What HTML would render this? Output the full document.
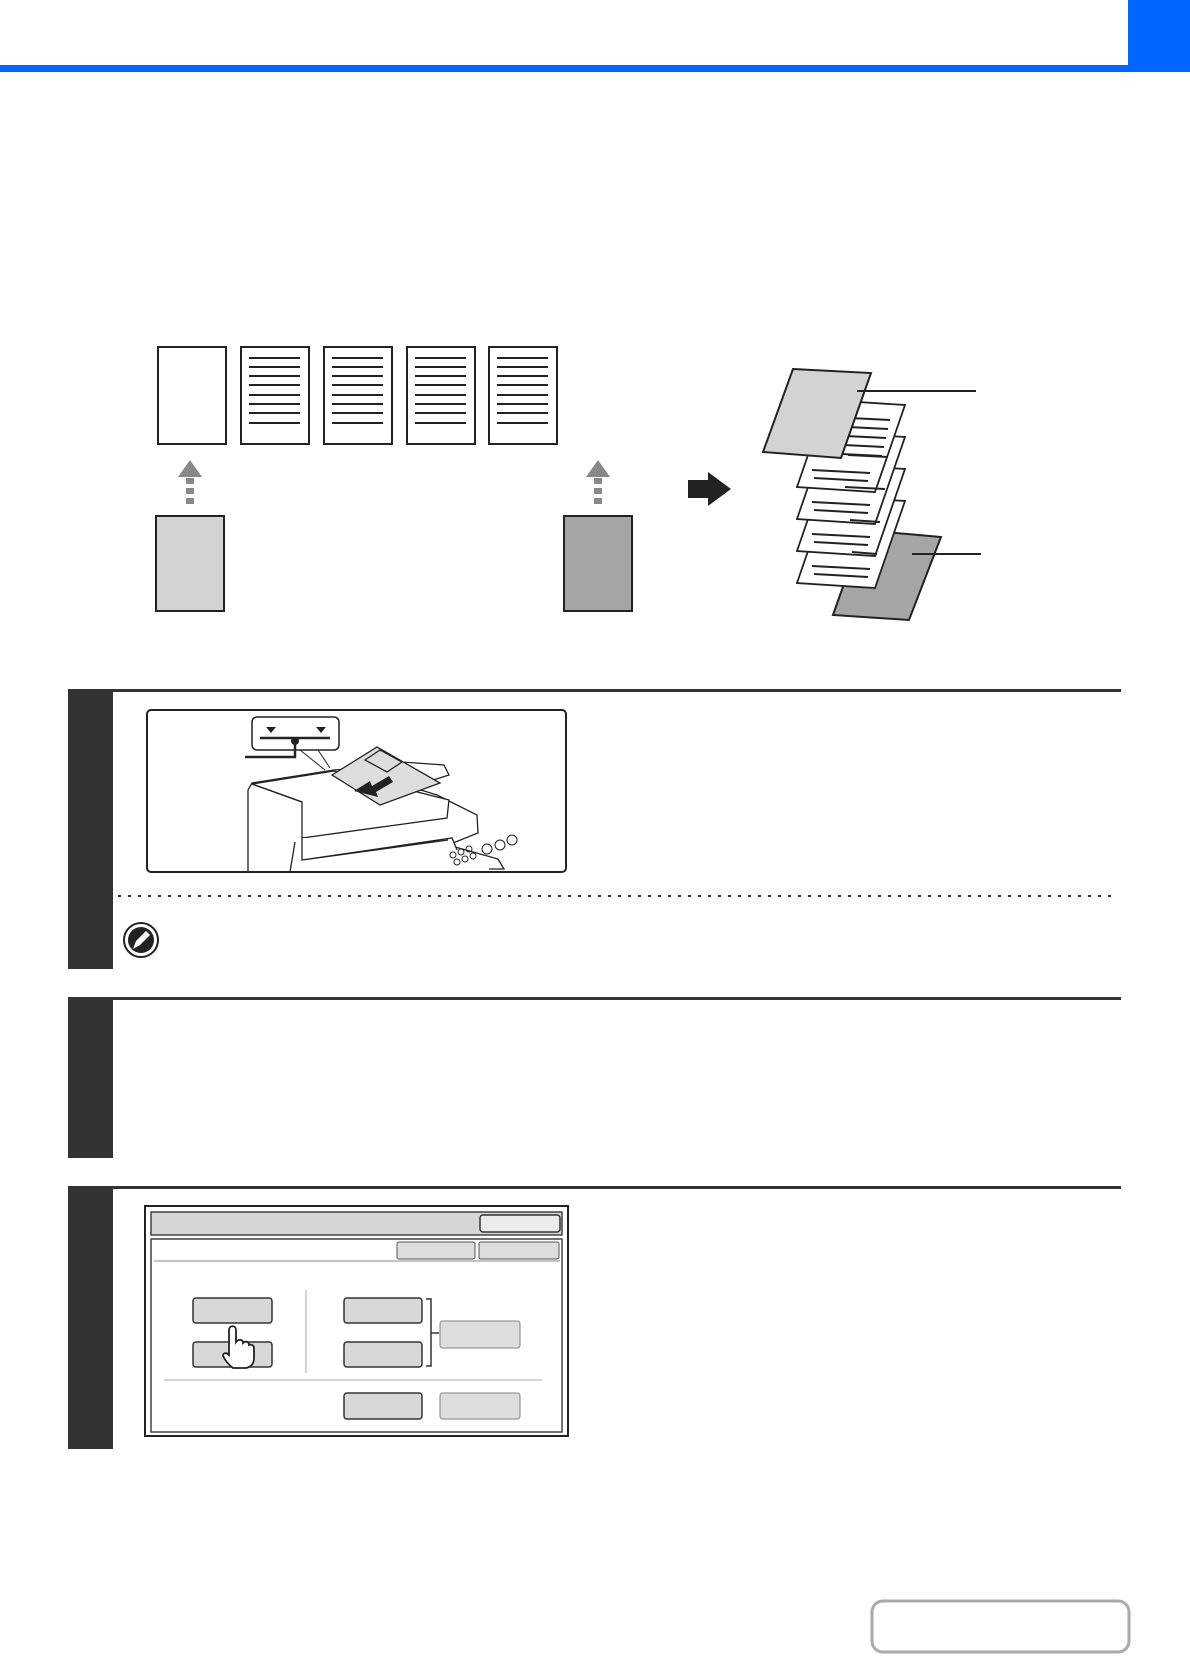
<!DOCTYPE html>
<html><head><meta charset="utf-8"><style>
html,body{margin:0;padding:0;background:#fff;}
svg{display:block;}
</style></head><body>
<svg width="1190" height="1656" viewBox="0 0 1190 1656" xmlns="http://www.w3.org/2000/svg" font-family="Liberation Sans, sans-serif">
<!-- header -->
<rect x="0" y="65" width="1128" height="7" fill="#0066ff"/>
<rect x="1128" y="0" width="62" height="72" fill="#0066ff"/>

<!-- top pages -->
<g stroke="#222" stroke-width="2" fill="#fff">
<rect x="158" y="347" width="68" height="97"/>
<rect x="241" y="347" width="68" height="97"/>
<rect x="324" y="347" width="68" height="97"/>
<rect x="407" y="347" width="68" height="97"/>
<rect x="489" y="347" width="68" height="97"/>
</g>
<g stroke="#222" stroke-width="2">
<path d="M249 358h51M249 367h51M249 376h51M249 385h51M249 395h51M249 404h51M249 413h51M249 423h51"/>
<path d="M332 358h51M332 367h51M332 376h51M332 385h51M332 395h51M332 404h51M332 413h51M332 423h51"/>
<path d="M415 358h51M415 367h51M415 376h51M415 385h51M415 395h51M415 404h51M415 413h51M415 423h51"/>
<path d="M497 358h51M497 367h51M497 376h51M497 385h51M497 395h51M497 404h51M497 413h51M497 423h51"/>
</g>
<!-- dashed up arrows -->
<g fill="#888">
<polygon points="190,460 178,477 202,477"/>
<rect x="186" y="478" width="8" height="6"/><rect x="186" y="488" width="8" height="6"/><rect x="186" y="498" width="8" height="6"/>
<polygon points="598,460 586,477 610,477"/>
<rect x="594" y="478" width="8" height="6"/><rect x="594" y="488" width="8" height="6"/><rect x="594" y="498" width="8" height="6"/>
</g>
<rect x="156" y="516" width="68" height="95" fill="#d3d3d3" stroke="#222" stroke-width="2"/>
<rect x="564" y="516" width="68" height="95" fill="#a5a5a5" stroke="#222" stroke-width="2"/>
<!-- black arrow -->
<polygon points="688,480 708,480 708,472 731,489 708,506 708,498 688,498" fill="#222"/>

<!-- stack -->
<polygon points="863,530 941,537 909,620 833,615" fill="#a5a5a5" stroke="#222" stroke-width="2"/>
<g stroke="#222" stroke-width="1.8" fill="#fff">
<polygon points="827,496 905,501 875,588 797,583"/>
<polygon points="827,464 905,469 875,556 797,551"/>
<polygon points="827,432 905,437 875,524 797,519"/>
<polygon points="827,400 905,405 875,492 797,487"/>
</g>
<g stroke="#222" stroke-width="2">
<path d="M812 566l58 3M814 574l54 3M812 534l58 3M814 542l54 3M812 502l58 3M814 510l54 3M812 470l58 3M814 478l54 3"/>
<path d="M850 418l40 2M848 427l40 2M846 436l40 2M844 445l40 2M842 454l40 2M845 487l40 2M848 455l40 2M850 520l30 2M852 552l25 2"/>
</g>
<polygon points="793,369 871,373 841,458 763,452" fill="#d3d3d3" stroke="#222" stroke-width="2"/>
<path d="M857 391H976M912 554H981" stroke="#222" stroke-width="2"/>

<!-- step sidebars and lines -->
<rect x="68" y="689" width="45" height="280" fill="#333"/>
<rect x="68" y="689" width="1053" height="3" fill="#333"/>
<rect x="68" y="997" width="45" height="161" fill="#333"/>
<rect x="68" y="997" width="1053" height="3" fill="#333"/>
<rect x="68" y="1186" width="45" height="263" fill="#333"/>
<rect x="68" y="1186" width="1053" height="3" fill="#333"/>

<!-- step1 illustration -->
<rect x="147" y="710" width="419" height="162" rx="4" fill="#fff" stroke="#222" stroke-width="2"/>
<g stroke="#222" stroke-width="1.3" fill="#fff">
<path d="M248 872V790l4-7 82-13 38-3 30-5 42 3 5 10-38 12 26 8 40 20 1 18-30 12 50 14 6 10-15 0" fill="none"/>
<polygon points="252,784 334,771 449,800 447,818 302,838 302,802"/>
<path d="M252 784l50 18M302 838V860l146-20M302 860l150-22 5 12M290 872l5-30"/>
<polygon points="332,775 377,747 440,783 380,805" fill="#ddd"/>
<path d="M365 760l15-10 22 12-15 10z" fill="#ddd"/>
</g>
<polygon points="354,791 370,781 372,786 389,776 393,782 376,792 378,797" fill="#222"/>
<g fill="none" stroke="#222" stroke-width="1">
<circle cx="453" cy="855" r="3"/><circle cx="461" cy="852" r="3"/><circle cx="469" cy="849" r="3"/><circle cx="457" cy="862" r="3"/><circle cx="465" cy="859" r="3"/><circle cx="473" cy="856" r="3"/><circle cx="487" cy="849" r="5"/><circle cx="500" cy="845" r="5"/><circle cx="512" cy="840" r="5"/>
</g>
<rect x="252" y="717" width="87" height="33" rx="5" fill="#fff" stroke="#222" stroke-width="1.5"/>
<path d="M260 738H330" stroke="#222" stroke-width="2.5"/>
<polygon points="266,727 276,727 271,733" fill="#222"/><polygon points="316,727 326,727 321,733" fill="#222"/>
<circle cx="295" cy="741" r="4" fill="#222"/>
<path d="M295 741V757H245" fill="none" stroke="#222" stroke-width="2.5"/>
<path d="M300 750l25 20M318 750l12 18" stroke="#222" stroke-width="1"/>

<!-- dotted line + note -->
<path d="M118 896H1116" stroke="#333" stroke-width="2" stroke-dasharray="3 7"/>
<circle cx="141" cy="940" r="17" fill="#fff" stroke="#222" stroke-width="2"/>
<circle cx="141" cy="940" r="13" fill="#222"/>
<path d="M133 949l3-8 10-10 4 4-10 10z" fill="#fff"/>

<!-- step3 screen -->
<rect x="145" y="1206" width="423" height="230" fill="#fff" stroke="#222" stroke-width="2"/>
<rect x="151" y="1212" width="411" height="23" fill="#d6d6d6" stroke="#444" stroke-width="1.5"/>
<rect x="480" y="1215" width="80" height="17" rx="3" fill="#ececec" stroke="#333" stroke-width="1.5"/>
<rect x="151" y="1239" width="411" height="193" fill="#fff" stroke="#444" stroke-width="1.5"/>
<rect x="397" y="1242" width="78" height="17" rx="2" fill="#ddd" stroke="#555"/>
<rect x="479" y="1242" width="80" height="17" rx="2" fill="#ddd" stroke="#555"/>
<path d="M154 1261H560" stroke="#888"/>
<g fill="#d8d8d8" stroke="#333" stroke-width="1.5">
<rect x="193" y="1298" width="79" height="25" rx="3"/>
<rect x="193" y="1342" width="79" height="25" rx="3"/>
<rect x="344" y="1298" width="78" height="25" rx="3"/>
<rect x="344" y="1342" width="78" height="25" rx="3"/>
<rect x="344" y="1393" width="78" height="26" rx="3"/>
</g>
<g fill="#ddd" stroke="#999" stroke-width="1.3">
<rect x="440" y="1321" width="80" height="27" rx="3"/>
<rect x="440" y="1393" width="80" height="26" rx="3"/>
</g>
<path d="M306 1290V1373M164 1380H542" stroke="#bbb" stroke-width="1.3"/>
<path d="M426 1299h5V1366h-5M431 1333h8" fill="none" stroke="#333" stroke-width="1.5"/>
<!-- hand -->
<path d="M229 1330c0-5 7-5 7 0v12c2-3 7-3 7 1 2-2 6-2 6 2 2-1 5 0 5 3v10c0 6-3 9-8 10h-13c-4-3-8-8-10-12 0-3 3-4 6-1l0-25z" fill="#fff" stroke="#222" stroke-width="1.8"/>

<!-- bottom button -->
<rect x="872" y="1601" width="257" height="51" rx="11" fill="#fff" stroke="#aaa" stroke-width="3"/>
</svg>
</body></html>
